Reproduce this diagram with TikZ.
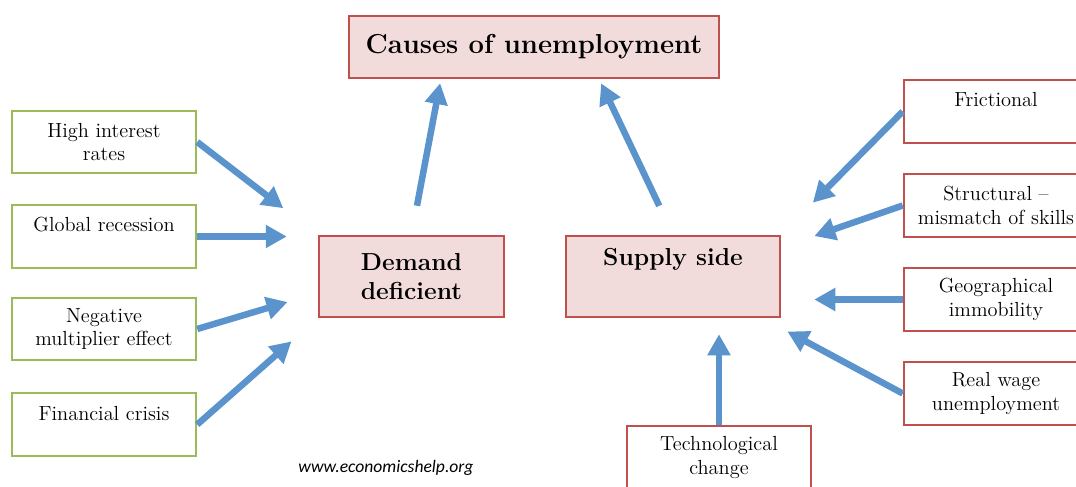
\documentclass[tikz,border=0pt]{standalone}
\usepackage{fontspec}
\usepackage{tikz}
\usetikzlibrary{arrows.meta,calc}
\newfontfamily\webfont{Carlito}
\definecolor{causered}{RGB}{192,80,77}
\definecolor{causepink}{RGB}{242,220,219}
\definecolor{causegreen}{RGB}{155,187,89}
\definecolor{causeblue}{RGB}{91,148,205}
\tikzset{
	redfill/.style={draw=causered,fill=causepink,line width=0.5mm,align=center,inner sep=0.1cm},
	redbox/.style={draw=causered,fill=white,line width=0.5mm,align=center,inner sep=0.1cm,minimum width=3.68cm,minimum height=1.26cm,font=\fontsize{11.6}{13.6}\selectfont},
	greenbox/.style={draw=causegreen,fill=white,line width=0.5mm,align=center,inner sep=0.1cm,minimum width=3.68cm,minimum height=1.24cm,font=\fontsize{11.6}{13.6}\selectfont},
	oneline/.style={text height=0.44cm,text depth=0.62cm},
	causearrow/.style={-{Triangle[length=0.42cm,width=0.44cm]},draw=causeblue,fill=causeblue,line width=0.13cm},
}

\begin{document}
\begin{tikzpicture}
	
	\useasboundingbox (0,0) rectangle (21.52,9.72);
	\clip (0,0) rectangle (21.52,9.72);
	
	\node[redfill,minimum width=7.40cm,minimum height=1.24cm,font=\fontsize{15.6}{19}\bfseries] (title) at (10.68,8.78) {Causes of unemployment};
	
	% demand side
	\node[greenbox] (high) at (2.08,6.88) {High interest\\rates};
	\node[greenbox,oneline] (global) at (2.08,4.99) {Global recession};
	\node[greenbox] (negative) at (2.08,3.14) {Negative\\multiplier effect};
	\node[greenbox,oneline] (financial) at (2.08,1.23) {Financial crisis};
	\node[redfill,minimum width=3.70cm,minimum height=1.62cm,font=\fontsize{14}{16}\bfseries] (demand) at (8.23,4.19) {Demand\\deficient};
	
	% supply side
	\node[redfill,minimum width=4.28cm,minimum height=1.62cm,text height=0.5cm,text depth=0.92cm,font=\fontsize{14}{16}\bfseries] (supply) at (13.46,4.19) {Supply side};
	\node[redbox,oneline] (frictional) at (19.92,7.49) {Frictional};
	\node[redbox] (structural) at (19.92,5.61) {Structural --\\mismatch of skills};
	\node[redbox] (geographical) at (19.92,3.73) {Geographical\\immobility};
	\node[redbox] (realwage) at (19.92,1.85) {Real wage\\unemployment};
	\node[redbox] (tech) at (14.38,0.57) {Technological\\change};
	
	\node[font=\fontsize{10}{12}\webfont\itshape] (url) at (7.72,0.36) {www.economicshelp.org};
	
	\draw[causearrow,shorten >=0.87cm] (high.east) -- (demand.north west);
	\draw[causearrow,shorten >=0.62cm] (global.east) -- (global.east -| demand.west);
	\draw[causearrow,shorten >=0.63cm] (negative.east) -- (demand.190);
	\draw[causearrow,shorten >=0.7cm] (financial.east) -- (demand.south west);
	\draw[causearrow,shorten <=0.59cm,shorten >=0.08cm] (demand.north) -- ($(title.south)!0.5!(title.south west)$);
	
	\draw[causearrow,shorten <=0.64cm,shorten >=0.09cm] (supply.north) -- ($(title.south)!0.35!(title.south east)$);
	\draw[causearrow,shorten >=0.9cm] (frictional.west) -- (supply.north east);
	\draw[causearrow,shorten >=0.7cm] (structural.west) -- (supply.15);
	\draw[causearrow,shorten >=0.66cm] (geographical.west) -- (geographical.west -| supply.east);
	\draw[causearrow,shorten >=0.14cm] (realwage.west) -- ([yshift=-0.2cm]supply.south east);
	\draw[causearrow,shorten >=0.32cm] (tech.north) -- (tech.north |- supply.south);
	
\end{tikzpicture}
\end{document}
